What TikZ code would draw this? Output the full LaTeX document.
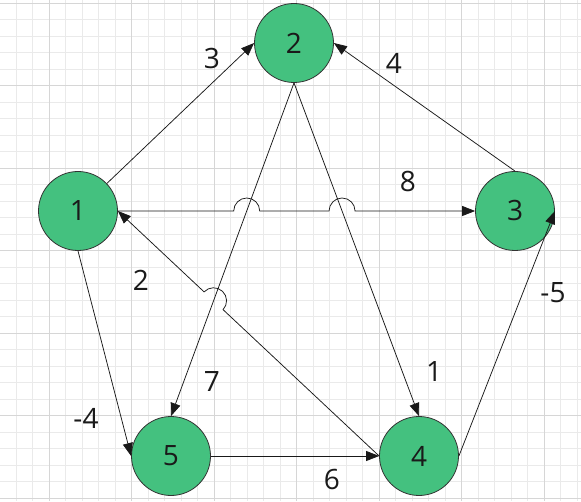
\documentclass[tikz,border=0pt]{standalone}
\usepackage{fontspec}
\setmainfont{Open Sans}
\usetikzlibrary{arrows.meta,calc,intersections}
\definecolor{nodegreen}{RGB}{68,193,127}
\definecolor{gridminor}{RGB}{234,234,234}
\definecolor{gridmajor}{RGB}{214,214,214}
\definecolor{txt}{RGB}{26,26,26}
\begin{document}
\begin{tikzpicture}[x=1pt,y=1pt,
  vertex/.style={circle,draw=black!80,line width=0.8pt,fill=nodegreen,minimum size=79pt,inner sep=0pt,text=txt,font=\fontsize{28}{30}\selectfont},
  wlabel/.style={text=txt,font=\fontsize{28}{30}\selectfont,inner sep=0pt},
  edge/.style={draw=black!90,line width=0.75pt,-{Triangle[length=13pt,width=10pt]}},
  minorline/.style={draw=gridminor,line width=0.9pt},
  majorline/.style={draw=gridmajor,line width=0.9pt}]
\useasboundingbox (0,0) rectangle (581,501);
\fill[white] (0,0) rectangle (581,501);
% grid
\foreach \k in {-3,...,33} {
  \pgfmathsetmacro\xx{49.3+16.5*\k}
  \draw[minorline] (\xx,0) -- (\xx,501);
}
\foreach \k in {-1,...,31} {
  \pgfmathsetmacro\yy{497.7-16.5*\k}
  \draw[minorline] (0,\yy) -- (581,\yy);
}
\foreach \k in {-1,...,7} {
  \pgfmathsetmacro\xx{49.3+82.5*\k}
  \draw[majorline] (\xx,0) -- (\xx,501);
}
\foreach \k in {0,...,6} {
  \pgfmathsetmacro\yy{497.7-82.5*\k}
  \draw[majorline] (0,\yy) -- (581,\yy);
}
% nodes
\node[vertex] (n1) at (78,290) {1};
\node[vertex] (n2) at (294,458) {2};
\node[vertex] (n3) at (515,290) {3};
\node[vertex] (n4) at (419,45) {4};
\node[vertex] (n5) at (171,45) {5};
% helper paths
\path[name path=p25] (n2.south) -- (n5.north);
\path[name path=p24] (n2.south) -- (n4.north);
\path[name path=p13] (n1.east) -- (n3.west);
\path[name path=p41] (n4.west) -- (n1.east);
\path[name intersections={of=p25 and p13,by=xa}];
\path[name intersections={of=p24 and p13,by=xb}];
\path[name intersections={of=p25 and p41,by=xc}];
% edges
\draw[edge] (n1) -- (n2.west);
\draw[edge] (n3.north) -- (n2.east);
\draw[edge] (n2.south) -- (n5.north);
\draw[edge] (n2.south) -- (n4.north);
\draw[edge] (n1.south) -- (n5.west);
\draw[edge] (n5.east) -- (n4.west);
\draw[edge] (n4.east) -- (n3.east);
\draw[edge] (n1.east) -- ($(xa)+(-13,0)$) arc[start angle=180,end angle=0,radius=13]
  -- ($(xb)+(-13,0)$) arc[start angle=180,end angle=0,radius=13] -- (n3.west);
\draw[edge] (n4.west) -- ($(xc)!13pt!(n4.west)$) arc[start angle=-43.1,end angle=136.9,radius=13] -- (n1.east);
% labels
\node[wlabel] (l12) at (212,442) {3};
\node[wlabel] (l32) at (394,438) {4};
\node[wlabel] (l13) at (408,319) {8};
\node[wlabel] (l41) at (141,221) {2};
\node[wlabel] (l25) at (212,119) {7};
\node[wlabel] (l15) at (86,83) {-4};
\node[wlabel] (l24) at (434,129) {1};
\node[wlabel] (l43) at (553,208) {-5};
\node[wlabel] (l54) at (332,22) {6};
\end{tikzpicture}
\end{document}
